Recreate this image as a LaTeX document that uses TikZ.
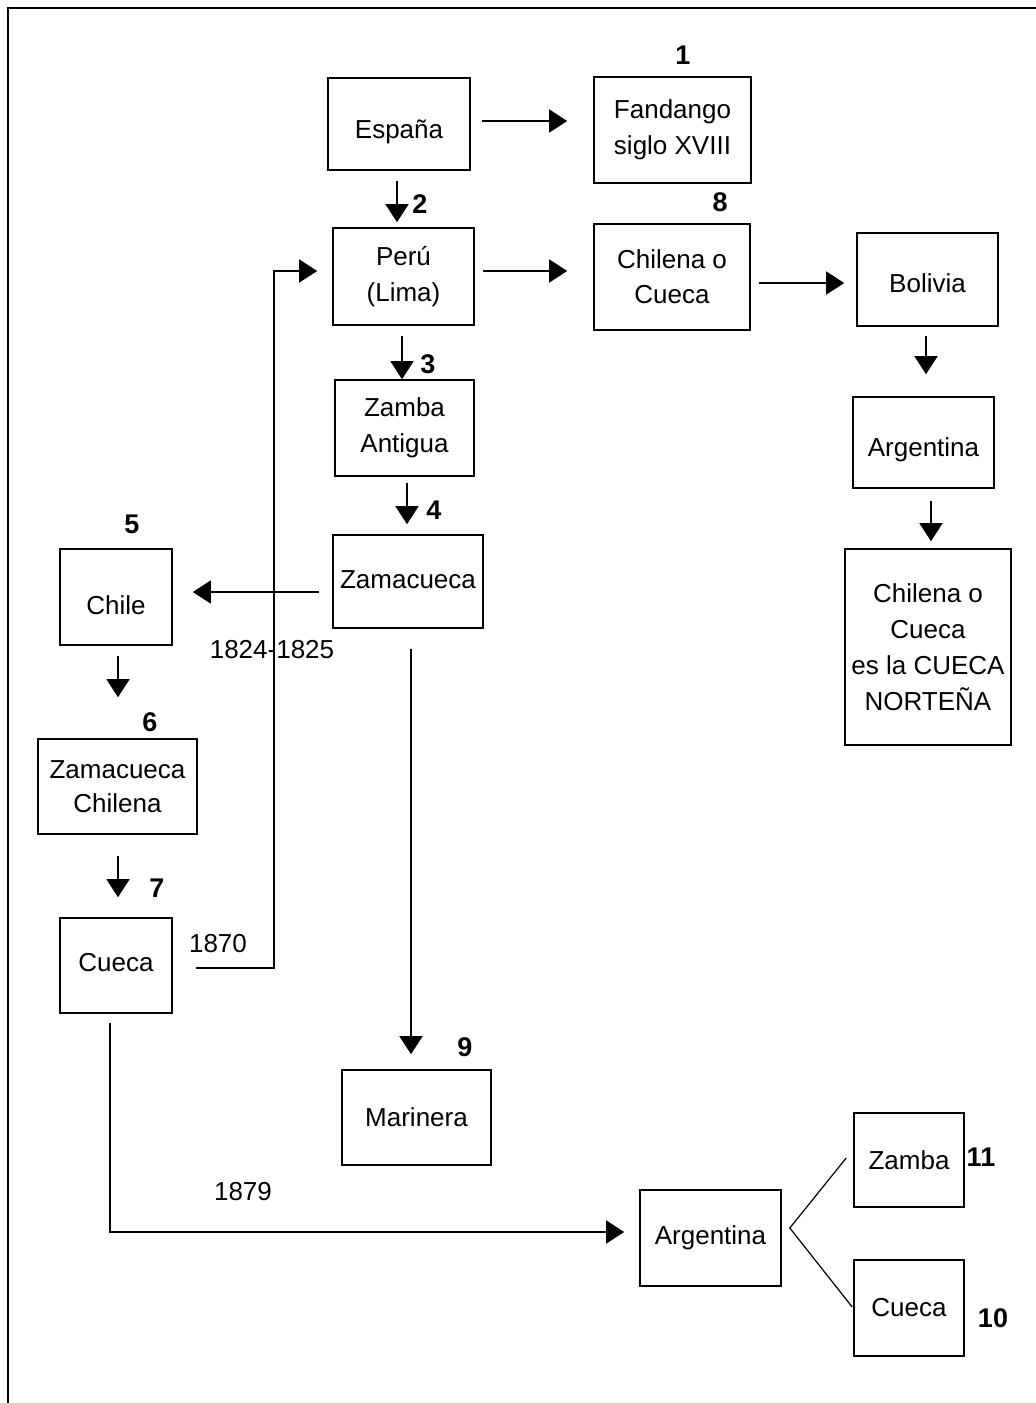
\documentclass[tikz,border=0pt]{standalone}
\usepackage{fontspec}
\setmainfont{Liberation Sans}
\usetikzlibrary{arrows.meta,calc}
\begin{document}
\begin{tikzpicture}[x=1pt,y=-1pt,
  box/.style={draw,line width=1.6pt,rectangle,inner sep=0pt,align=center,
    font=\fontsize{26}{36}\selectfont},
  boxtxt/.style={inner sep=0pt,font=\fontsize{26}{36}\selectfont},
  num/.style={font=\fontsize{27}{30}\selectfont\bfseries,inner sep=0pt},
  yr/.style={font=\fontsize{26}{30}\selectfont,inner sep=0pt},
  arr/.style={line width=1.5pt,-{Triangle[length=18pt,width=23pt]}},
  ln/.style={line width=1.5pt}]
\useasboundingbox (0,0) rectangle (1036,1403);
\draw[line width=2.5pt] (8,1403) -- (8,8) -- (1036,8);
% boxes
\node[box,minimum width=142pt,minimum height=92pt,label={[boxtxt,yshift=-8pt]center:España}] (espana) at (399,124) {};
\node[box,minimum width=157pt,minimum height=106pt] (fandango) at (672.5,130) {Fandango\\siglo XVIII};
\node[box,minimum width=141pt,minimum height=97pt] (peru) at (403.5,276.5) {Perú\\(Lima)};
\node[box,minimum width=156pt,minimum height=106pt,font=\fontsize{26}{35}\selectfont] (chilena) at (672,277) {Chilena o\\Cueca};
\node[box,minimum width=141pt,minimum height=93pt,label={[boxtxt,yshift=-4pt]center:Bolivia}] (bolivia) at (927.5,279.5) {};
\node[box,minimum width=141pt,minimum height=91pt,label={[boxtxt,yshift=-7pt]center:Argentina}] (argR) at (923.5,442.5) {};
\node[box,minimum width=166pt,minimum height=196pt,font=\fontsize{26}{36}\selectfont] (norte) at (928,647) {Chilena o\\Cueca\\es la CUECA\\NORTEÑA};
\node[box,minimum width=139pt,minimum height=96pt] (zambaA) at (404.5,428) {Zamba\\Antigua};
\node[box,minimum width=150pt,minimum height=93pt,label={[boxtxt,yshift=2pt]center:Zamacueca}] (zamac) at (408,581.5) {};
\node[box,minimum width=112pt,minimum height=96pt,label={[boxtxt,yshift=-8pt]center:Chile}] (chile) at (116,597) {};
\node[box,minimum width=159pt,minimum height=95pt,font=\fontsize{26}{34}\selectfont] (zamChil) at (117.5,786.5) {Zamacueca\\Chilena};
\node[box,minimum width=112pt,minimum height=95pt,label={[boxtxt,yshift=3pt]center:Cueca}] (cueca) at (116,965.5) {};
\node[box,minimum width=149pt,minimum height=95pt] (marinera) at (416.5,1117.5) {Marinera};
\node[box,minimum width=141pt,minimum height=96pt] (argB) at (710.5,1238) {Argentina};
\node[box,minimum width=110pt,minimum height=94pt] (zambaB) at (909,1160) {Zamba};
\node[box,minimum width=110pt,minimum height=96pt] (cuecaB) at (909,1308) {Cueca};
% numbers
\node[num] (n1) at (683,55) {1};
\node[num] (n2) at (420,204) {2};
\node[num] (n8) at (720,202) {8};
\node[num] (n3) at (428,364) {3};
\node[num] (n4) at (434,510) {4};
\node[num] (n5) at (132,524) {5};
\node[num] (n6) at (150,722) {6};
\node[num] (n7) at (157,888) {7};
\node[num] (n9) at (465,1047) {9};
\node[num] (n11) at (981,1157) {11};
\node[num] (n10) at (993,1318) {10};
% years
\node[yr] (y1) at (272,650) {1824-1825};
\node[yr] (y2) at (218,944) {1870};
\node[yr] (y3) at (243,1192) {1879};
% connectors
\draw[arr] ([xshift=11pt,yshift=3pt]espana.east) -- ([xshift=-26pt,yshift=9pt]fandango.west);
\draw[arr] ([xshift=-2pt,yshift=-10pt]espana.south) -- ([xshift=-6.5pt,yshift=5pt]peru.north);
\draw[arr] ([xshift=8pt,yshift=5.5pt]peru.east) -- ([xshift=-26pt,yshift=6pt]chilena.west);
\draw[arr] ([xshift=8pt,yshift=-6pt]chilena.east) -- ([xshift=-12pt,yshift=-3.5pt]bolivia.west);
\draw[arr] ([xshift=-1.5pt,yshift=-9pt]bolivia.south) -- ([xshift=2.5pt,yshift=22pt]argR.north);
\draw[arr] ([xshift=7.5pt,yshift=-12pt]argR.south) -- ([xshift=3pt,yshift=7pt]norte.north);
\draw[arr] ([xshift=-1.5pt,yshift=-10pt]peru.south) -- ([xshift=-2.5pt,yshift=0pt]zambaA.north);
\draw[arr] ([xshift=2.5pt,yshift=-6pt]zambaA.south) -- ([xshift=-1pt,yshift=10pt]zamac.north);
\draw[arr] ([xshift=-13pt,yshift=-10.5pt]zamac.west) -- ([xshift=20pt,yshift=5pt]chile.east);
\draw[arr] ([xshift=2pt,yshift=-10pt]chile.south) -- ([xshift=0.5pt,yshift=41pt]zamChil.north);
\draw[arr] ([xshift=0.5pt,yshift=-21pt]zamChil.south) -- ([xshift=2pt,yshift=20pt]cueca.north);
\coordinate (c1) at (274,968);
\coordinate (c2) at (274,271);
\draw[arr,line join=miter] ([xshift=23pt,yshift=-2.5pt]cueca.east) -- (c1) -- (c2) -- ([xshift=-15pt,yshift=5.5pt]peru.west);
\draw[arr] ([xshift=3pt,yshift=-20pt]zamac.south) -- ([xshift=-5.5pt,yshift=15pt]marinera.north);
\coordinate (c3) at (110,1232);
\draw[arr,line join=miter] ([xshift=-6pt,yshift=-9pt]cueca.south) -- (c3) -- ([xshift=-15pt,yshift=6pt]argB.west);
\draw[line width=1.2pt] ([xshift=-7pt,yshift=2pt]zambaB.west) -- ([xshift=8pt,yshift=10pt]argB.east) -- ([xshift=-1pt,yshift=1pt]cuecaB.west);
\end{tikzpicture}
\end{document}
